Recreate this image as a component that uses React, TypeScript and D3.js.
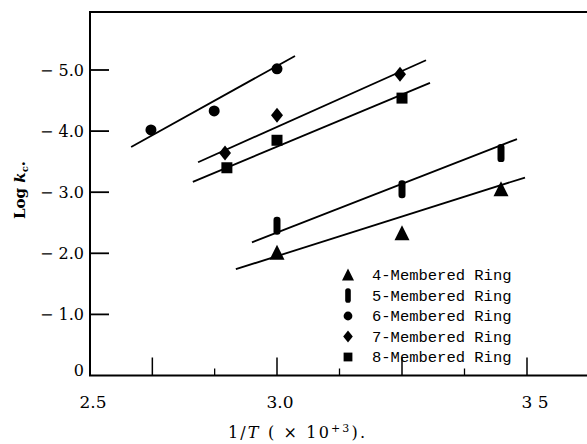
import { useEffect, useRef } from 'react';
import * as d3 from 'd3';

// 1/T positions (x 10^3) and log kc values
const ringLabels = ['4-Membered Ring', '5-Membered Ring', '6-Membered Ring', '7-Membered Ring', '8-Membered Ring'];
const ringKinds = ['triangle', 'capsule', 'circle', 'diamond', 'square'];

const xRing4 = [3.0, 3.25, 3.448];
const logK4 = [-2.01, -2.33, -3.05];
const xRing5 = [3.0, 3.25, 3.448];
const logK5 = [-2.45, -3.05, -3.64];
const xRing6 = [2.663, 2.832, 3.0];
const logK6 = [-4.02, -4.33, -5.02];
const xRing7 = [2.861, 3.0, 3.246];
const logK7 = [-3.64, -4.26, -4.93];
const xRing8 = [2.866, 3.0, 3.25];
const logK8 = [-3.4, -3.85, -4.54];

// fitted straight lines: [start, end]
const fitX = [[2.89, 3.496], [2.933, 3.48], [2.61, 3.036], [2.789, 3.298], [2.775, 3.306]];
const fitY = [[-1.74, -3.24], [-2.18, -3.87], [-3.74, -5.23], [-3.49, -5.16], [-3.17, -4.79]];

const yTicks = [0, -1, -2, -3, -4, -5];
const xLabelValues = [2.5, 3.0, 3.5];
const xLabelTexts = ['2.5', '3.0', '3 5'];
const xLongTicks = [2.6667, 3.0, 3.25, 3.5];
const xShortTicks = [2.8333, 3.125, 3.375];

const W = 587;
const H = 444;

function drawMarker(g: any, kind: string, cx: number, cy: number, s: number) {
  if (kind === 'triangle') {
    g.append('path')
      .attr('d', `M${cx},${cy - 8 * s}L${cx + 7.5 * s},${cy + 7 * s}L${cx - 7.5 * s},${cy + 7 * s}Z`)
      .attr('fill', '#000');
  } else if (kind === 'capsule') {
    g.append('rect')
      .attr('x', cx - 3.5 * s).attr('y', cy - 9 * s)
      .attr('width', 7 * s).attr('height', 18 * s)
      .attr('rx', 3.2 * s)
      .attr('fill', '#000');
  } else if (kind === 'circle') {
    g.append('circle').attr('cx', cx).attr('cy', cy).attr('r', 5.5 * s).attr('fill', '#000');
  } else if (kind === 'diamond') {
    g.append('path')
      .attr('d', `M${cx},${cy - 7.5 * s}L${cx + 6 * s},${cy}L${cx},${cy + 7.5 * s}L${cx - 6 * s},${cy}Z`)
      .attr('fill', '#000');
  } else {
    g.append('rect')
      .attr('x', cx - 5.5 * s).attr('y', cy - 5.5 * s)
      .attr('width', 11 * s).attr('height', 11 * s)
      .attr('fill', '#000');
  }
}

export default function App() {
  const svgRef = useRef<SVGSVGElement | null>(null);

  useEffect(() => {
    const svg = d3.select(svgRef.current);
    svg.selectAll('*').remove();

    // the printed axis is not uniform: 2.5-3.0 is narrower than 3.0-3.5
    const x = d3.scaleLinear().domain([2.5, 3.0, 3.5]).range([90, 277, 527]);
    const y = d3.scaleLinear().domain([0, -5]).range([375.5, 70]);

    const x0 = x(2.5);
    const y0 = y(0);
    const top = 12;
    const serif = '"DejaVu Serif", serif';

    // frame
    svg.append('path')
      .attr('d', `M${W + 5},${top}H${x0}V${y0}H${W + 5}`)
      .attr('fill', 'none')
      .attr('stroke', '#000')
      .attr('stroke-width', 2);

    // y ticks (inward) and labels
    yTicks.forEach(v => {
      if (v !== 0) {
        svg.append('line')
          .attr('x1', x0).attr('x2', x0 + 19)
          .attr('y1', y(v)).attr('y2', y(v))
          .attr('stroke', '#000').attr('stroke-width', 1.8);
      }
      svg.append('text')
        .attr('x', 84)
        .attr('y', v === 0 ? y0 : y(v))
        .attr('dy', v === 0 ? '0' : '0.36em')
        .attr('text-anchor', 'end')
        .style('font-family', serif)
        .style('font-size', '16px')
        .text(v === 0 ? '0' : `\u2212 ${Math.abs(v).toFixed(1)}`);
    });

    // x ticks (inward)
    xLongTicks.forEach(v => {
      svg.append('line')
        .attr('x1', x(v)).attr('x2', x(v))
        .attr('y1', y0).attr('y2', y0 - 18)
        .attr('stroke', '#000').attr('stroke-width', 1.5);
    });
    xShortTicks.forEach(v => {
      svg.append('line')
        .attr('x1', x(v)).attr('x2', x(v))
        .attr('y1', y0).attr('y2', y0 - 7)
        .attr('stroke', '#000').attr('stroke-width', 1.3);
    });
    xLabelValues.forEach((v, i) => {
      svg.append('text')
        .attr('x', x(v) + (i === 2 ? 8 : 3))
        .attr('y', 408)
        .attr('text-anchor', 'middle')
        .style('font-family', serif)
        .style('font-size', '17px')
        .text(xLabelTexts[i]);
    });

    // axis titles
    const xt = svg.append('text')
      .attr('x', 228)
      .attr('y', 438)
      .attr('textLength', 137)
      .attr('lengthAdjust', 'spacing')
      .style('font-family', serif)
      .style('font-size', '16px');
    xt.append('tspan').text('1/');
    xt.append('tspan').style('font-style', 'italic').text('T');
    xt.append('tspan').text(' ( \u00d7 10');
    xt.append('tspan').attr('dy', -6).style('font-size', '11px').text('+3');
    xt.append('tspan').attr('dy', 6).text(').');

    const yt = svg.append('text')
      .attr('transform', 'translate(25,190) rotate(-90)')
      .attr('text-anchor', 'middle')
      .style('font-family', serif)
      .style('font-size', '15px')
      .style('font-weight', 'bold');
    yt.append('tspan').text('Log ');
    yt.append('tspan').style('font-style', 'italic').text('k');
    yt.append('tspan').attr('dy', 3).style('font-size', '10px').text('c');
    yt.append('tspan').attr('dy', -3).text('.');

    // fitted lines
    fitX.forEach((fx, i) => {
      svg.append('line')
        .attr('x1', x(fx[0])).attr('y1', y(fitY[i][0]))
        .attr('x2', x(fx[1])).attr('y2', y(fitY[i][1]))
        .attr('stroke', '#000')
        .attr('stroke-width', 1.8);
    });

    // data points
    const seriesX = [xRing4, xRing5, xRing6, xRing7, xRing8];
    const seriesY = [logK4, logK5, logK6, logK7, logK8];
    seriesX.forEach((xs, i) => {
      xs.forEach((xv, j) => {
        drawMarker(svg, ringKinds[i], x(xv), y(seriesY[i][j]), 1);
      });
    });

    // legend
    ringLabels.forEach((label, i) => {
      const ly = 275 + i * 20.5;
      drawMarker(svg, ringKinds[i], 348, ly, 0.8);
      svg.append('text')
        .attr('x', 372)
        .attr('y', ly)
        .attr('dy', '0.35em')
        .style('font-family', '"Liberation Mono", monospace')
        .style('font-size', '15.5px')
        .text(label);
    });
  }, []);

  return (
    <svg
      ref={svgRef}
      width={W}
      height={H}
      style={{ position: 'absolute', left: 0, top: 0, background: '#fff' }}
    />
  );
}
